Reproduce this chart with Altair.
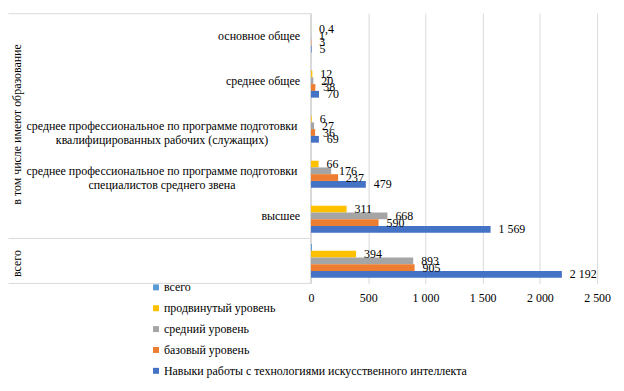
import altair as alt
import pandas as pd

categories = [
    "основное общее",
    "среднее общее",
    "среднее профессиональное по программе подготовки\nквалифицированных рабочих (служащих)",
    "среднее профессиональное по программе подготовки\nспециалистов  среднего звена",
    "высшее",
    "всего",
]
series = [
    "всего",
    "продвинутый уровень",
    "средний уровень",
    "базовый уровень",
    "Навыки работы с технологиями  искусственного интеллекта",
]
colors = ["#5B9BD5", "#FFC000", "#A5A5A5", "#ED7D31", "#4472C4"]

vals_total = [0, 0, 0, 0, 0, 8]
vals_adv = [0.4, 12, 6, 66, 311, 394]
vals_mid = [1, 20, 27, 176, 668, 893]
vals_base = [3, 38, 36, 237, 590, 905]
vals_ai = [5, 70, 69, 479, 1569, 2192]

x_ticks = [0, 500, 1000, 1500, 2000, 2500]


def fmt(v):
    if float(v).is_integer():
        return f"{int(v):,}".replace(",", " ")
    return str(v).replace(".", ",")


rows = []
for s, vals in zip(series, [vals_total, vals_adv, vals_mid, vals_base, vals_ai]):
    for c, v in zip(categories, vals):
        rows.append({"cat": c, "series": s, "value": v, "label": fmt(v)})
df = pd.DataFrame(rows)
df_labels = df[df["series"] != "всего"]

FONT = "Times New Roman, Liberation Serif, DejaVu Serif, serif"
GRID = "#d9d9d9"

y_enc = alt.Y("cat:N", sort=categories,
              scale=alt.Scale(paddingInner=0.25, paddingOuter=0.125), axis=None)
yoff_enc = alt.YOffset("series:N", sort=series,
                       scale=alt.Scale(paddingInner=0, paddingOuter=0))
x_enc = alt.X(
    "value:Q",
    scale=alt.Scale(domain=[0, 2500], nice=False),
    axis=alt.Axis(values=x_ticks, title=None, domain=False, ticks=False,
                  grid=True, gridColor=GRID, labelFont=FONT, labelFontSize=12,
                  labelColor="#000000", labelPadding=9, labelFlush=False,
                  labelExpr="replace(format(datum.value, ',d'), ',', ' ')"),
)

bars = alt.Chart(df).mark_bar().encode(
    y=y_enc,
    yOffset=yoff_enc,
    x=x_enc,
    color=alt.Color(
        "series:N",
        scale=alt.Scale(domain=series, range=colors),
        legend=alt.Legend(
            title=None, orient="none", legendX=-162, legendY=270,
            direction="vertical", symbolType="square", symbolSize=36,
            symbolStrokeWidth=0, labelFont=FONT, labelFontSize=12,
            labelColor="#000000", labelLimit=400, rowPadding=9,
            labelOffset=2, padding=0,
        ),
    ),
)

labels = alt.Chart(df_labels).mark_text(
    align="left", baseline="middle", dx=8, font=FONT, fontSize=12, color="#000000"
).encode(y=y_enc, yOffset=yoff_enc, x="value:Q", text="label:N")

cat_df = pd.DataFrame({"cat": categories})
single = [categories[0], categories[1], categories[4]]
double = [categories[2], categories[3]]

cat_single = alt.Chart(cat_df[cat_df["cat"].isin(single)]).mark_text(
    align="right", baseline="middle", font=FONT, fontSize=12, color="#000000"
).encode(y=alt.Y("cat:N", sort=categories, axis=None), x=alt.value(-11), text="cat:N")

cat_double = alt.Chart(cat_df[cat_df["cat"].isin(double)]).mark_text(
    align="center", baseline="middle", font=FONT, fontSize=12, color="#000000",
    lineBreak="\n", lineHeight=14,
).encode(y=alt.Y("cat:N", sort=categories, axis=None), x=alt.value(-150), text="cat:N")

one = pd.DataFrame({"a": [0]})

rot1 = alt.Chart(one).mark_text(
    angle=270, align="center", baseline="middle", font=FONT, fontSize=12, color="#000000"
).encode(x=alt.value(-296), y=alt.value(112), text=alt.value("в том числе имеют образование"))
rot2 = alt.Chart(one).mark_text(
    angle=270, align="center", baseline="middle", font=FONT, fontSize=12, color="#000000"
).encode(x=alt.value(-296), y=alt.value(252), text=alt.value("всего"))

def hrule(y):
    return alt.Chart(one).mark_rule(color=GRID, strokeWidth=1).encode(
        x=alt.value(-304.5), x2=alt.value(0), y=alt.value(y))

vrule = alt.Chart(one).mark_rule(color=GRID, strokeWidth=1).encode(
    x=alt.value(-0.5), y=alt.value(0), y2=alt.value(272))

chart = alt.layer(
    bars, labels, cat_single, cat_double, rot1, rot2,
    hrule(0.5), hrule(226.7), hrule(272), vrule,
).properties(
    width=288, height=272,
    padding={"left": 0, "top": 3, "right": 5, "bottom": 0},
).configure_view(stroke=None)

chart.save("out.html", embed_options={"renderer": "svg", "actions": False})
